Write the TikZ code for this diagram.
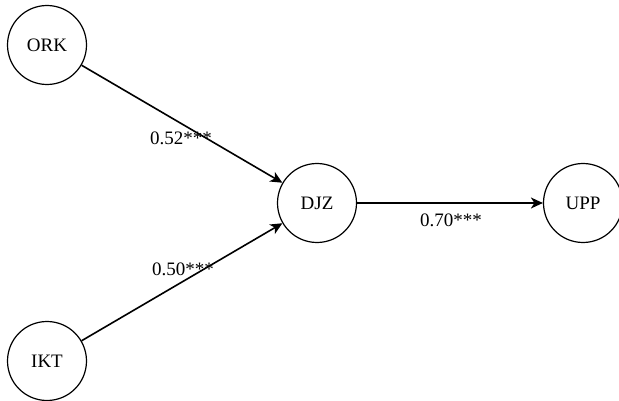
\documentclass[tikz,border=0pt]{standalone}
\usepackage{fontspec}
\setmainfont{Liberation Serif}
\usetikzlibrary{arrows.meta}
\begin{document}
\begin{tikzpicture}[x=1pt,y=-1pt,
  latent/.style={draw, circle, line width=1.2pt, minimum size=79pt, inner sep=0pt, font=\fontsize{19}{21}\selectfont},
  path/.style={line width=1.6pt, -{Stealth[length=12pt,width=11pt,inset=3.5pt]}},
  coef/.style={inner sep=0pt, anchor=base west, font=\fontsize{19}{21}\selectfont}]
\useasboundingbox (0,0) rectangle (619,401);
\node[latent] (ork) at (47,45) {ORK};
\node[latent] (ikt) at (47,361) {IKT};
\node[latent] (djz) at (317,203) {DJZ};
\node[latent] (upp) at (583,203) {UPP};
\draw[path] (ork) -- (djz);
\draw[path] (ikt) -- (djz);
\draw[path] (djz) -- (upp);
\node[coef] (l1) at (150,145) {0.52***};
\node[coef] (l2) at (152,275) {0.50***};
\node[coef] (l3) at (420,226) {0.70***};
\end{tikzpicture}
\end{document}
